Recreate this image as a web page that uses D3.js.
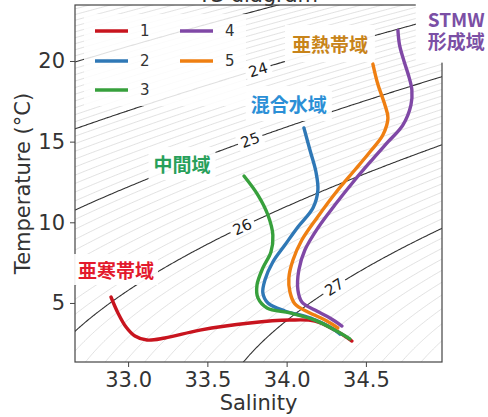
<!DOCTYPE html>
<html><head><meta charset="utf-8">
<script src="https://cdn.jsdelivr.net/npm/d3@7"></script>
<style>body{margin:0;background:#fff}svg{display:block}</style></head>
<body><svg id="c" width="488" height="417"></svg>
<script>
// ---------- data ----------
const seriesNames = ["1", "2", "3", "4", "5"];
const seriesColors = ["#c8141e", "#2f78b6", "#37a03c", "#8048a6", "#ef7f12"];

const sal1  = [32.892, 32.936, 32.987, 33.043, 33.119, 33.232, 33.453, 33.768, 34.021, 34.178, 34.304, 34.412];
const temp1 = [5.37, 4.38, 3.51, 2.95, 2.70, 2.83, 3.32, 3.76, 3.94, 3.88, 3.32, 2.64];

const sal2  = [34.109, 34.147, 34.185, 34.197, 34.166, 34.071, 33.989, 33.913, 33.863, 33.850, 33.882, 33.989, 34.147, 34.304, 34.336];
const temp2 = [15.85, 14.48, 13.12, 12.00, 10.89, 9.71, 8.59, 7.54, 6.42, 5.62, 5.00, 4.50, 4.07, 3.32, 3.07];

const sal3  = [33.731, 33.819, 33.882, 33.913, 33.901, 33.850, 33.813, 33.819, 33.876, 34.021, 34.178, 34.304, 34.399];
const temp3 = [12.87, 11.69, 10.45, 9.21, 8.16, 7.17, 6.11, 5.31, 4.69, 4.38, 3.94, 3.32, 2.77];

const sal4  = [34.702, 34.712, 34.740, 34.772, 34.790, 34.784, 34.733, 34.639, 34.538, 34.430, 34.304, 34.197, 34.115, 34.077, 34.071, 34.096, 34.178, 34.273, 34.349];
const temp4 = [21.90, 21.00, 20.00, 19.00, 18.20, 17.27, 16.03, 14.98, 13.86, 12.62, 11.07, 9.65, 8.28, 7.04, 5.80, 5.06, 4.56, 4.07, 3.57];

const sal5  = [34.544, 34.575, 34.620, 34.639, 34.607, 34.525, 34.430, 34.323, 34.191, 34.096, 34.040, 34.014, 34.021, 34.052, 34.134, 34.242, 34.323];
const temp5 = [19.81, 18.57, 17.27, 16.47, 15.41, 14.36, 13.24, 12.00, 10.27, 8.90, 7.66, 6.55, 5.68, 4.94, 4.44, 3.94, 3.45];

const xTicks = [33.0, 33.5, 34.0, 34.5];
const yTicks = [5, 10, 15, 20];
const densityLevelsMajor = [23, 24, 25, 26, 27];
const contourLabelLevels = [24, 25, 26, 27];
const contourLabelSal = [33.82, 33.77, 33.72, 34.30];

const regionTexts  = [["亜寒帯域"], ["中間域"], ["混合水域"], ["亜熱帯域"], ["STMW", "形成域"]];
const regionColors = ["#e3192c", "#27a05a", "#2b8fd6", "#c8841a", "#7b4fa5"];
const regionSal    = [32.924, 33.340, 34.014, 34.273, 35.07];
const regionTemp   = [6.98, 13.55, 17.27, 20.99, 21.88];

// ---------- layout ----------
const svg = d3.select("#c");
const L = 75, R = 442, T = 5, B = 362;
const x = d3.scaleLinear().domain([32.665, 34.98]).range([L, R]);
const y = d3.scaleLinear().domain([1.34, 23.47]).range([B, T]);
const FONT = "DejaVu Sans, sans-serif";
const JFONT = "'Noto Sans CJK JP', sans-serif";

svg.append("defs").append("clipPath").attr("id", "clip")
  .append("rect").attr("x", L).attr("y", T).attr("width", R - L).attr("height", B - T);

// title (cut off at top, as in the reference)
svg.append("text").attr("x", 258).attr("y", 2).attr("text-anchor", "middle")
  .attr("font-family", FONT).attr("font-size", 21).attr("fill", "#333").text("TS diagram");

// ---------- density (sigma-theta, EOS-80 at p=0) ----------
function sigma0(S, t) {
  const rw = 999.842594 + 6.793952e-2 * t - 9.095290e-3 * t * t + 1.001685e-4 * t ** 3 - 1.120083e-6 * t ** 4 + 6.536332e-9 * t ** 5;
  const A = 8.24493e-1 - 4.0899e-3 * t + 7.6438e-5 * t * t - 8.2467e-7 * t ** 3 + 5.3875e-9 * t ** 4;
  const Bc = -5.72466e-3 + 1.0227e-4 * t - 1.6546e-6 * t * t;
  return rw + A * S + Bc * Math.pow(S, 1.5) + 4.8314e-4 * S * S - 1000;
}
const nx = 280, ny = 280, gS0 = 32.4, gS1 = 35.3, gT0 = 0, gT1 = 25;
const vals = new Float64Array(nx * ny);
for (let j = 0; j < ny; j++) for (let i = 0; i < nx; i++)
  vals[j * nx + i] = sigma0(gS0 + (gS1 - gS0) * i / (nx - 1), gT0 + (gT1 - gT0) * j / (ny - 1));
const gx = g => gS0 + (gS1 - gS0) * (g - 0.5) / (nx - 1);
const gy = g => gT0 + (gT1 - gT0) * (g - 0.5) / (ny - 1);
const thin = d3.range(200, 290).map(v => v / 10).filter(v => Math.abs(v - Math.round(v)) > 1e-6);

const cg = svg.append("g").attr("clip-path", "url(#clip)");
function drawContours(levels, stroke, width) {
  const cs = d3.contours().size([nx, ny]).thresholds(levels)(vals);
  cs.forEach(c => {
    c.coordinates.forEach(poly => poly.forEach(ring => {
      cg.append("path")
        .attr("d", d3.line().x(p => x(gx(p[0]))).y(p => y(gy(p[1])))(ring))
        .attr("fill", "none").attr("stroke", stroke).attr("stroke-width", width);
    }));
  });
}
drawContours(thin, "#cdcdcd", 0.6);
drawContours(densityLevelsMajor, "#333", 1.1);

// contour labels
function tempAt(level, S) {
  let lo = -2, hi = 35;
  for (let k = 0; k < 60; k++) { const m = (lo + hi) / 2; if (sigma0(S, m) > level) lo = m; else hi = m; }
  return (lo + hi) / 2;
}
contourLabelLevels.forEach((lv, i) => {
  const S = contourLabelSal[i], t = tempAt(lv, S);
  const t2 = tempAt(lv, S + 0.01);
  const ang = Math.atan2(y(t2) - y(t), x(S + 0.01) - x(S)) * 180 / Math.PI;
  const g = svg.append("g").attr("transform", `translate(${x(S)},${y(t)}) rotate(${ang})`);
  g.append("rect").attr("x", -13).attr("y", -8).attr("width", 26).attr("height", 16).attr("fill", "#fff");
  g.append("text").attr("text-anchor", "middle").attr("dy", "0.36em")
    .attr("font-family", FONT).attr("font-size", 15).attr("fill", "#222").text(String(lv));
});

// ---------- frame ----------
svg.append("rect").attr("x", L).attr("y", T).attr("width", R - L).attr("height", B - T)
  .attr("fill", "none").attr("stroke", "#444").attr("stroke-width", 1.2);

// ---------- region labels with white boxes ----------
const regionPad = [[4, 2], [5, 3], [5, 4], [7, 5], [12, 9]];
regionTexts.forEach((lines, i) => {
  const cx = x(regionSal[i]), cy = y(regionTemp[i]);
  const g = svg.append("g");
  const rect = g.append("rect").attr("fill", "#fff").attr("opacity", lines.length > 1 ? 1 : 0.94);
  const txs = lines.map((s, k) => g.append("text").attr("text-anchor", "middle").attr("font-family", JFONT)
    .attr("font-weight", "bold").attr("font-size", 19).attr("fill", regionColors[i])
    .attr("x", cx).attr("y", cy + 7 + (k - (lines.length - 1) / 2) * 22).text(s));
  const boxes = txs.map(t => t.node().getBBox());
  const x0 = d3.min(boxes, b => b.x), x1 = d3.max(boxes, b => b.x + b.width);
  const y0 = d3.min(boxes, b => b.y), y1 = d3.max(boxes, b => b.y + b.height);
  const p = regionPad[i];
  rect.attr("x", x0 - p[0]).attr("y", y0 - p[1]).attr("width", x1 - x0 + 2 * p[0]).attr("height", y1 - y0 + 2 * p[1]);
});

// ---------- legend ----------
svg.append("rect").attr("x", 84).attr("y", 14).attr("width", 162).attr("height", 92)
  .attr("fill", "#fff").attr("opacity", 0.85);
const legPos = [[95, 31], [95, 61], [95, 90], [180, 31], [180, 61]];
seriesNames.forEach((n, i) => {
  const [lx, ly] = legPos[i];
  svg.append("line").attr("x1", lx).attr("x2", lx + 33).attr("y1", ly).attr("y2", ly)
    .attr("stroke", seriesColors[i]).attr("stroke-width", 3.5);
  svg.append("text").attr("x", lx + 45).attr("y", ly).attr("dy", "0.36em")
    .attr("font-family", FONT).attr("font-size", 15).attr("fill", "#333").text(n);
});

// ---------- profiles ----------
const sals = [sal1, sal2, sal3, sal4, sal5];
const temps = [temp1, temp2, temp3, temp4, temp5];
const line = d3.line().x(d => x(d[0])).y(d => y(d[1])).curve(d3.curveCatmullRom.alpha(0.5));
sals.forEach((s, i) => {
  svg.append("path").attr("d", line(s.map((v, k) => [v, temps[i][k]])))
    .attr("fill", "none").attr("stroke", seriesColors[i]).attr("stroke-width", 3.4)
    .attr("stroke-linecap", "round").attr("stroke-linejoin", "round");
});

// ---------- axes ----------
const xa = svg.append("g").attr("transform", `translate(0,${B})`)
  .call(d3.axisBottom(x).tickValues(xTicks).tickFormat(d3.format(".1f")).tickSize(5).tickPadding(5));
const ya = svg.append("g").attr("transform", `translate(${L},0)`)
  .call(d3.axisLeft(y).tickValues(yTicks).tickFormat(d3.format("d")).tickSize(5).tickPadding(5));
[xa, ya].forEach(a => {
  a.select(".domain").remove();
  a.selectAll("line").attr("stroke", "#444");
  a.selectAll("text").attr("font-family", FONT).attr("font-size", 21).attr("fill", "#333");
});
svg.append("text").attr("x", (L + R) / 2).attr("y", 410).attr("text-anchor", "middle")
  .attr("font-family", FONT).attr("font-size", 21).attr("fill", "#333").text("Salinity");
svg.append("text").attr("transform", `translate(30,${(T + B) / 2}) rotate(-90)`).attr("text-anchor", "middle")
  .attr("font-family", FONT).attr("font-size", 21).attr("fill", "#333").text("Temperature (°C)");
</script></body></html>
